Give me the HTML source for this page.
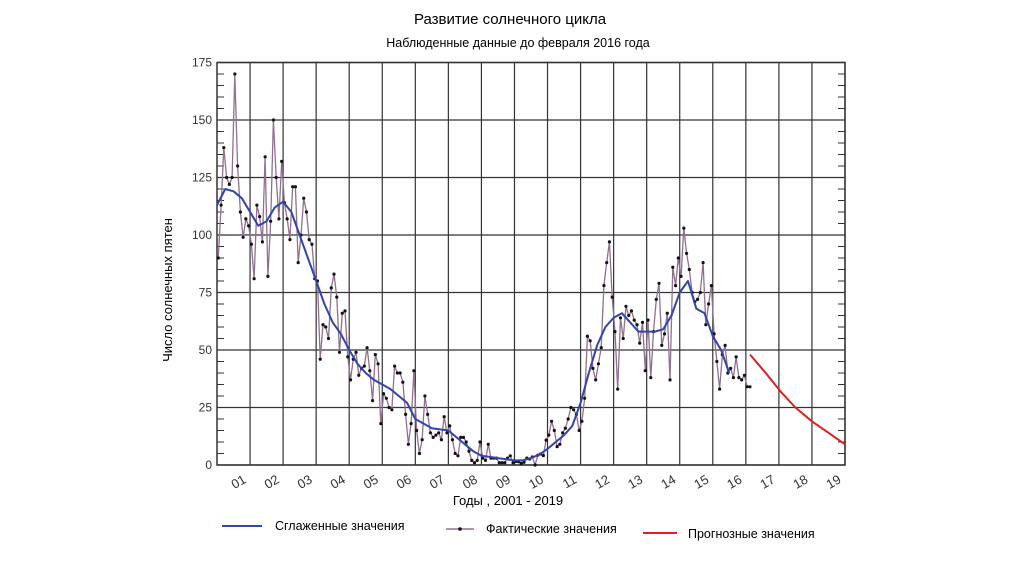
<!DOCTYPE html>
<html><head><meta charset="utf-8"><style>
body{margin:0;background:#fff;width:1022px;height:558px;overflow:hidden;font-family:"Liberation Sans",sans-serif}
svg text{font-family:"Liberation Sans",sans-serif}
</style></head><body>
<svg id="chart" width="1022" height="558" xmlns="http://www.w3.org/2000/svg">
<text x="510" y="24" font-size="15" text-anchor="middle">Развитие солнечного цикла</text>
<text x="518" y="47" font-size="12.5" text-anchor="middle">Наблюденные данные до февраля 2016 года</text>
<text transform="translate(172,290) rotate(-90)" font-size="13" text-anchor="middle">Число солнечных пятен</text>
<text x="508" y="505" font-size="13" text-anchor="middle">Годы , 2001 - 2019</text>
<g id="grid"></g>
<g id="marks"></g>
<g>
<line x1="222" y1="526" x2="262" y2="526" stroke="#3344aa" stroke-width="2"/>
<text x="275" y="530" font-size="12.5">Сглаженные значения</text>
<line x1="446" y1="529" x2="474" y2="529" stroke="#907090" stroke-width="1.5"/>
<circle cx="460" cy="529" r="1.8" fill="#111"/>
<text x="486" y="533" font-size="12.5">Фактические значения</text>
<line x1="643" y1="533" x2="677" y2="533" stroke="#e02020" stroke-width="2"/>
<text x="688" y="538" font-size="12.5">Прогнозные значения</text>
</g>
</svg>
<script>
const actual = [
90,113,138,125,122,125,170,130,110,99,107,104,
96,81,113,108,97,134,82,106,150,125,107,132,
114,107,98,121,121,88,100,116,110,98,96,81,
80,46,61,60,55,77,83,73,49,66,67,47,
37,46,49,39,42,43,51,41,28,48,44,18,
31,29,25,24,43,40,40,36,22,9,18,41,
15,5,11,30,22,14,12,13,14,11,21,14,
17,11,5,4,12,12,10,6,2,1,2,10,
3,2,9,3,3,3,1,1,1,3,4,1,
1.5,1.4,0.7,1.2,3,2.6,3.5,0,4.3,4.8,4.1,10.8,
13,19,15,8,9,14,16,20,25,24,22,15,
19,29,56,54,42,37,44,51,78,88,97,73,
58,33,64,55,69,65,67,63,61,53,62,41,
63,38,58,72,79,52,57,66,37,86,78,90,
82,103,92,85,75,71,72,75,88,61,70,78,
57,45,33,48,52,40,42,38,47,38,37,39,
34,34];
const actualStart = 2000.04;
const smoothed = [113,120,119,116,110,104,106,112,114.5,110,100,90,
80,70,62,57,50,44,40,37,35,33,30,27,20,18,16,15.5,15,12,9,6,4,3.5,3,2.5,
2,2,3,4.5,7,10,13,17,27,40,52,60,64,66,62,58,58,58,59,65,75,80,68,66,56,50,40];
const smoothedStart = 2000.0, smoothedStep = 0.25;
const forecast = [48,40,32,25,19,14,9];
const forecastTimes = [2016.13,2016.6,2017.05,2017.5,2018.0,2018.5,2019.0];
const yTicks = [0,25,50,75,100,125,150,175];
const xLabels = ["01","02","03","04","05","06","07","08","09","10","11","12","13","14","15","16","17","18","19"];

const L=217,R=845,T=62.5,B=465, X0=2000,X1=2019,Ymax=175;
const x=t=>L+(t-X0)/(X1-X0)*(R-L);
const y=v=>B-v/Ymax*(B-T);
const NS="http://www.w3.org/2000/svg";
const grid=document.getElementById('grid'), marks=document.getElementById('marks');
function mk(tag,attrs,parent){const e=document.createElementNS(NS,tag);for(const k in attrs)e.setAttribute(k,attrs[k]);parent.appendChild(e);return e;}
const fr=mk('rect',{x:L,y:T,width:R-L,height:B-T,fill:'none',stroke:'#333','stroke-width':1.5},grid);


yTicks.forEach(v=>{
  const g=mk('line',{x1:L,x2:R,y1:y(v),y2:y(v),stroke:'#333','stroke-width':1.2},grid);
  
  
  const t=mk('text',{x:L-5,y:y(v)+4,'font-size':12,'text-anchor':'end',fill:'#333'},grid);
  t.textContent=v;
  
  
});
for(let v=5;v<Ymax;v+=5){ if(v%25===0)continue;
  mk('line',{x1:L,x2:L+7,y1:y(v),y2:y(v),stroke:'#333'},grid);
  mk('line',{x1:R-7,x2:R,y1:y(v),y2:y(v),stroke:'#333'},grid);
}
xLabels.forEach((lab,i)=>{
  const t0=2001+i, xx=x(t0);
  const g=mk('line',{x1:xx,x2:xx,y1:T,y2:B,stroke:'#333','stroke-width':1.2},grid);
  
  
  const t=mk('text',{transform:`translate(${xx-3},${B+17}) rotate(-30)`,'font-size':13,'text-anchor':'end',fill:'#333'},grid);
  t.textContent=lab;
  
  
});
const ap=actual.map((v,i)=>`${x(actualStart+i/12).toFixed(1)},${y(v).toFixed(1)}`).join(' ');
const al=mk('polyline',{points:ap,fill:'none',stroke:'#907090','stroke-width':1.3},marks);


actual.forEach((v,i)=>{
  const c=mk('circle',{cx:x(actualStart+i/12),cy:y(v),r:1.6,fill:'#111'},marks);
  
  
});
const sp=smoothed.map((v,i)=>`${x(smoothedStart+i*smoothedStep).toFixed(1)},${y(v).toFixed(1)}`).join(' ');
const sl=mk('polyline',{points:sp,fill:'none',stroke:'#3344aa','stroke-width':2,'stroke-linejoin':'round'},marks);


const fp=forecast.map((v,i)=>`${x(forecastTimes[i]).toFixed(1)},${y(v).toFixed(1)}`).join(' ');
const fl=mk('polyline',{points:fp,fill:'none',stroke:'#e02020','stroke-width':2,'stroke-linejoin':'round'},marks);


</script>
</body></html>
